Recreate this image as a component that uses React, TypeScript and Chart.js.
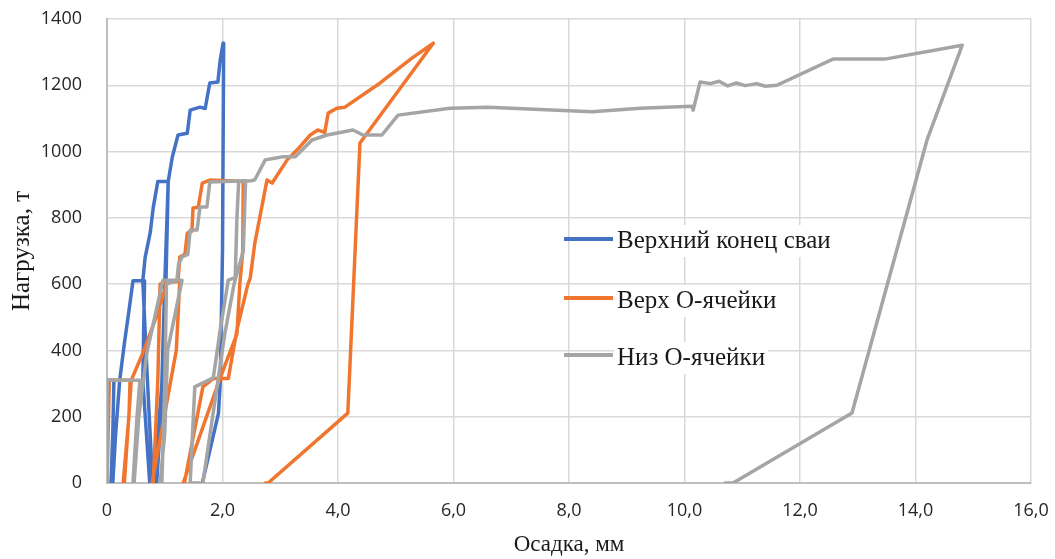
import React, { useEffect, useRef } from 'react';
import { Chart, registerables } from 'chart.js';

Chart.register(...registerables);

// ---- Data (settlement, mm / load, t) ----
const seriesNames = ['Верхний конец сваи', 'Верх О-ячейки', 'Низ О-ячейки'];
const seriesColors = ['#4472c4', '#f0762f', '#a5a5a5'];

const blueX = [0, 0.0, 0.01, 0.12, 0.10, 0.07, 0.10, 0.15, 0.22, 0.30, 0.38, 0.45, 0.65, 0.62, 0.74, 0.79, 0.70, 0.62, 0.66, 0.75, 0.80, 0.88, 1.06, 1.00, 0.95, 0.82, 0.86, 0.97, 1.02, 1.06, 1.13, 1.23, 1.39, 1.44, 1.61, 1.70, 1.78, 1.92, 1.96, 2.01, 2.02, 2.00, 1.96, 1.93, 1.65];
const blueY = [0, 150, 310, 310, 150, 0, 0, 150, 310, 420, 520, 610, 610, 310, 0, 0, 310, 610, 680, 757, 830, 910, 910, 600, 300, 0, 0, 300, 600, 910, 983, 1050, 1055, 1125, 1134, 1130, 1207, 1210, 1276, 1327, 1320, 700, 300, 210, 0];

const orangeX = [0, 0.02, 0.04, 0.40, 0.38, 0.28, 0.30, 0.42, 0.62, 0.85, 1.04, 1.26, 1.20, 0.78, 0.80, 0.88, 0.92, 1.05, 1.23, 1.26, 1.35, 1.39, 1.47, 1.49, 1.58, 1.65, 1.78, 2.36, 2.35, 2.30, 2.25, 1.96, 1.32, 1.34, 1.66, 1.84, 2.10, 2.25, 2.44, 2.48, 2.56, 2.77, 2.86, 3.12, 3.34, 3.52, 3.65, 3.77, 3.83, 3.98, 4.12, 4.73, 5.28, 5.65, 4.38, 4.17, 2.79, 2.74];
const orangeY = [0, 150, 310, 310, 200, 0, 0, 310, 392, 500, 603, 610, 400, 0, 0, 310, 600, 610, 610, 682, 690, 754, 760, 830, 832, 905, 914, 910, 700, 600, 450, 317, 0, 0, 290, 315, 315, 462, 600, 618, 724, 914, 905, 975, 1014, 1050, 1065, 1058, 1116, 1131, 1134, 1207, 1282, 1327, 1026, 211, 0, 0];

const grayX = [0, 0.0, 0.01, 0.57, 0.52, 0.45, 0.47, 0.55, 0.69, 0.88, 0.97, 1.30, 1.05, 1.00, 0.92, 0.95, 1.00, 1.03, 1.21, 1.24, 1.30, 1.40, 1.44, 1.56, 1.61, 1.73, 1.78, 2.40, 2.36, 2.20, 2.04, 1.66, 1.44, 1.52, 1.84, 1.96, 2.10, 2.22, 2.25, 2.28, 2.50, 2.56, 2.74, 2.90, 3.03, 3.26, 3.55, 3.81, 4.26, 4.43, 4.76, 5.04, 5.94, 6.60, 8.40, 9.23, 10.13, 10.15, 10.27, 10.45, 10.60, 10.75, 10.90, 11.05, 11.25, 11.40, 11.60, 12.57, 13.47, 14.81, 14.20, 12.90, 10.84, 10.70];
const grayY = [0, 150, 310, 310, 200, 0, 0, 200, 392, 543, 612, 612, 400, 150, 0, 0, 300, 600, 612, 660, 682, 690, 763, 763, 833, 833, 908, 912, 700, 600, 450, 0, 0, 290, 317, 462, 612, 620, 800, 910, 912, 915, 975, 980, 984, 984, 1035, 1050, 1065, 1050, 1050, 1110, 1131, 1134, 1120, 1131, 1137, 1125, 1210, 1205, 1212, 1198, 1207, 1199, 1205, 1197, 1200, 1279, 1279, 1321, 1035, 211, 0, 0];

const xTickValues = [0, 2, 4, 6, 8, 10, 12, 14, 16];
const xTickLabels = ['0', '2,0', '4,0', '6,0', '8,0', '10,0', '12,0', '14,0', '16,0'];
const yTickValues = [0, 200, 400, 600, 800, 1000, 1200, 1400];
const yTickLabels = ['0', '200', '400', '600', '800', '1000', '1200', '1400'];

const xTitle = 'Осадка, мм';
const yTitle = 'Нагрузка, т';

const zip = (xs: number[], ys: number[]) => xs.map((x, i) => ({ x, y: ys[i] }));

const serifFont = "'Liberation Serif', 'Times New Roman', serif";
const sansFont = "'Open Sans', 'Liberation Sans', sans-serif";

// custom legend drawn inside the plot area
const insideLegend = {
  id: 'insideLegend',
  afterDraw(chart: any) {
    const ctx = chart.ctx as CanvasRenderingContext2D;
    const rows = [
      { lineY: 239, textY: 241 },
      { lineY: 298, textY: 301 },
      { lineY: 355, textY: 358 },
    ];
    ctx.save();
    ctx.font = `25px ${serifFont}`;
    ctx.textBaseline = 'middle';
    ctx.textAlign = 'left';
    seriesNames.forEach((name, i) => {
      const r = rows[i];
      const w = ctx.measureText(name).width;
      ctx.fillStyle = '#ffffff';
      ctx.fillRect(614, r.textY - 16, w + 6, 32);
      ctx.strokeStyle = seriesColors[i];
      ctx.lineWidth = 4;
      ctx.lineCap = 'butt';
      ctx.beginPath();
      ctx.moveTo(564, r.lineY);
      ctx.lineTo(613, r.lineY);
      ctx.stroke();
      ctx.fillStyle = '#1a1a1a';
      ctx.fillText(name, 617, r.textY);
    });
    ctx.restore();
  },
};

export default function App() {
  const ref = useRef<HTMLCanvasElement | null>(null);

  useEffect(() => {
    if (!ref.current) return;
    const datasets = [
      { label: seriesNames[0], data: zip(blueX, blueY), borderColor: seriesColors[0], order: 3 },
      { label: seriesNames[1], data: zip(orangeX, orangeY), borderColor: seriesColors[1], order: 2 },
      { label: seriesNames[2], data: zip(grayX, grayY), borderColor: seriesColors[2], order: 1 },
    ].map((d) => ({
      ...d,
      showLine: true,
      fill: false,
      tension: 0,
      borderWidth: 3.5,
      pointRadius: 0,
      pointHoverRadius: 0,
      borderJoinStyle: 'round' as const,
      borderCapStyle: 'round' as const,
    }));

    const chart = new Chart(ref.current, {
      type: 'scatter',
      data: { datasets },
      options: {
        animation: false,
        responsive: true,
        maintainAspectRatio: false,
        layout: { padding: { top: 19, right: 24, left: 0, bottom: 0 } },
        plugins: {
          legend: { display: false },
          tooltip: { enabled: false },
        },
        scales: {
          x: {
            type: 'linear',
            min: 0,
            max: 16,
            afterFit: (s: any) => {
              s.height = 76;
              s.paddingLeft = 0;
              s.paddingRight = 10;
              s.paddingTop = 0;
              s.paddingBottom = 0;
            },
            afterBuildTicks: (s: any) => { s.ticks = xTickValues.map((v) => ({ value: v })); },
            ticks: {
              padding: 17,
              color: '#262626',
              font: { family: sansFont, size: 18 },
              maxRotation: 0,
              autoSkip: false,
              callback: (v: any) => { const i = xTickValues.indexOf(Number(v)); return i >= 0 ? xTickLabels[i] : ''; },
            },
            grid: { color: '#d9d9d9', lineWidth: 1.5, drawTicks: false },
            border: { color: '#bfbfbf', width: 2 },
            title: {
              display: true,
              text: xTitle,
              color: '#1a1a1a',
              font: { family: serifFont, size: 23, lineHeight: 1.2 },
              padding: { top: 0, bottom: 0 },
            },
          },
          y: {
            type: 'linear',
            min: 0,
            max: 1400,
            afterFit: (s: any) => {
              s.width = 107;
              s.paddingTop = 10;
              s.paddingBottom = 10;
              s.paddingLeft = 0;
              s.paddingRight = 0;
            },
            afterBuildTicks: (s: any) => { s.ticks = yTickValues.map((v) => ({ value: v })); },
            ticks: {
              padding: 25,
              color: '#262626',
              font: { family: sansFont, size: 18 },
              autoSkip: false,
              callback: (v: any) => { const i = yTickValues.indexOf(Number(v)); return i >= 0 ? yTickLabels[i] : ''; },
            },
            grid: { color: '#d9d9d9', lineWidth: 1.5, drawTicks: false },
            border: { color: '#bfbfbf', width: 2 },
            title: {
              display: true,
              text: yTitle,
              color: '#1a1a1a',
              font: { family: serifFont, size: 25, lineHeight: 1.2 },
              padding: { top: 7, bottom: 0 },
            },
          },
        },
      },
      plugins: [insideLegend],
    });
    return () => chart.destroy();
  }, []);

  return (
    <div style={{ position: 'fixed', left: 0, top: 0, width: 1055, height: 559, background: '#fff' }}>
      <canvas ref={ref} />
    </div>
  );
}
